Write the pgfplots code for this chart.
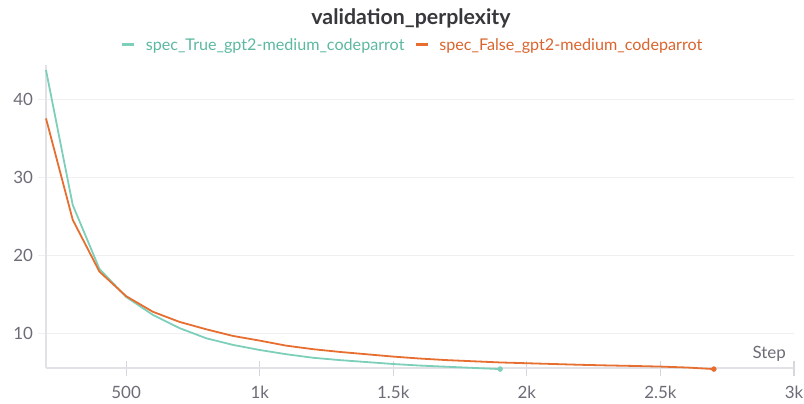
\documentclass[border=0pt]{standalone}
\usepackage{pgfplots}
\pgfplotsset{compat=1.18}
\usepackage{fontspec}
\setmainfont{Lato}

\definecolor{cTrue}{RGB}{125,207,186}
\definecolor{cTrueTxt}{RGB}{92,184,160}
\definecolor{cFalse}{RGB}{230,110,48}
\definecolor{cFalseTxt}{RGB}{218,100,45}
\definecolor{gridc}{RGB}{239,239,241}
\definecolor{axc}{RGB}{226,226,230}
\definecolor{xtickc}{RGB}{214,214,220}
\definecolor{tickc}{RGB}{108,108,118}
\definecolor{titlec}{RGB}{55,55,60}

\begin{document}
\begin{tikzpicture}
\useasboundingbox (0,0) rectangle (804bp,404bp);

\begin{axis}[
    at={(46bp,35.7bp)}, anchor=south west,
    scale only axis,
    width=748bp, height=303.3bp,
    xmin=200, xmax=3000,
    ymin=5.55, ymax=44.45,
    clip=false,
    axis x line=bottom, axis y line=left,
    axis line style={draw=axc, line width=2bp, -},
    xtick={500,1000,1500,2000,2500,3000},
    xticklabels={500,1k,1.5k,2k,2.5k,3k},
    ytick={10,20,30,40},
    ymajorgrids,
    grid style={draw=gridc, line width=1.2bp},
    tick align=center,
    major tick length=15bp,
    xtick style={draw=xtickc, line width=1.2bp},
    ytick style={draw=gridc, line width=1.2bp},
    tick label style={font=\fontsize{17}{20}\selectfont, text=tickc},
    /pgf/number format/assume math mode=true,
    yticklabel style={xshift=-2bp},
    xticklabel style={yshift=-7bp},
    legend columns=2,
    legend style={at={(0.49,1.066)}, anchor=center, draw=none, fill=none,
        font=\fontsize{16.2}{19}\selectfont, column sep=8bp},
    legend image code/.code={\draw[line width=3bp] (0bp,0bp) -- (12bp,0bp);},
]

\addplot[cTrue, line width=1.8bp] coordinates {
(200,43.8) (300,26.5) (400,18.3) (500,14.7) (600,12.4) (700,10.7)
(800,9.4) (900,8.55) (1000,7.9) (1100,7.35) (1200,6.9) (1300,6.6)
(1400,6.35) (1500,6.1) (1600,5.9) (1700,5.75) (1800,5.6) (1900,5.45)
};
\addlegendentry{\textcolor{cTrueTxt}{spec\_True\_gpt2-medium\_codeparrot}}

\addplot[cFalse, line width=1.8bp] coordinates {
(200,37.6) (300,24.6) (400,17.95) (500,14.8) (600,12.8) (700,11.5)
(800,10.55) (900,9.7) (1000,9.1) (1100,8.45) (1200,8.0) (1300,7.65)
(1400,7.35) (1500,7.05) (1600,6.8) (1700,6.6) (1800,6.45) (1900,6.3)
(2000,6.2) (2100,6.1) (2200,6.0) (2300,5.92) (2400,5.85) (2500,5.77)
(2600,5.65) (2700,5.45)
};
\addlegendentry{\textcolor{cFalseTxt}{spec\_False\_gpt2-medium\_codeparrot}}

\addplot[cTrue, only marks, mark=*, mark size=2.5bp, forget plot] coordinates {(1900,5.45)};
\addplot[cFalse, only marks, mark=*, mark size=2.5bp, forget plot] coordinates {(2700,5.45)};

\end{axis}

\node[font=\bfseries\fontsize{21.4}{24}\selectfont, text=titlec] at (411bp,386bp) {validation\_perplexity};
\node[font=\fontsize{17}{20}\selectfont, text=tickc, anchor=south east, inner sep=0pt] at (786bp,42bp) {Step};
\end{tikzpicture}
\end{document}
